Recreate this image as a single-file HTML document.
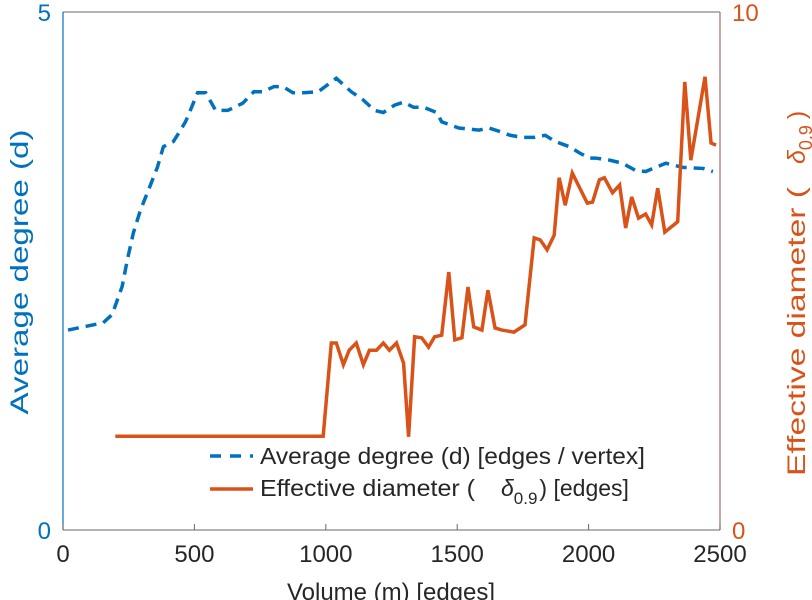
<!DOCTYPE html>
<html><head><meta charset="utf-8"><style>
html,body{margin:0;padding:0;background:#fff;}
svg{display:block;font-family:"Liberation Sans",sans-serif;}
</style></head><body>
<svg id="chart" width="812" height="600" viewBox="0 0 812 600" xmlns="http://www.w3.org/2000/svg">
<rect width="812" height="600" fill="#fff"/>
<g id="axes"></g>
<g id="series"></g>
<g id="legend"></g>
</svg>
<script>
const xTicks = [0, 500, 1000, 1500, 2000, 2500];
const leftTicks = [0, 5];
const rightTicks = [0, 10];
const degM = [19,153,187,225,245,268,295,325,359,382,420,440,466,478,512,543,581,627,684,726,761,803,837,875,914,971,1040,1097,1143,1185,1219,1261,1296,1334,1372,1422,1441,1506,1583,1621,1670,1701,1747,1793,1835,1873,1927,1965,2003,2026,2080,2129,2179,2217,2255,2294,2359,2435,2473];
const degD = [1.93,2.00,2.08,2.35,2.61,2.87,3.09,3.28,3.50,3.70,3.75,3.83,3.94,4.01,4.22,4.22,4.05,4.05,4.12,4.23,4.23,4.28,4.28,4.22,4.22,4.23,4.36,4.23,4.15,4.05,4.03,4.10,4.13,4.08,4.08,4.03,3.94,3.88,3.86,3.88,3.84,3.81,3.79,3.79,3.81,3.75,3.70,3.64,3.59,3.59,3.57,3.54,3.47,3.46,3.50,3.54,3.50,3.49,3.46];
const diaM = [199,990,1021,1040,1067,1089,1116,1143,1166,1193,1219,1242,1269,1296,1315,1338,1365,1391,1414,1441,1468,1491,1518,1541,1563,1594,1617,1644,1670,1716,1758,1793,1816,1842,1869,1888,1911,1938,1995,2015,2041,2060,2091,2118,2141,2164,2190,2217,2240,2263,2290,2339,2366,2389,2443,2466,2485];
const diaD = [1.81,1.81,3.61,3.61,3.19,3.47,3.61,3.19,3.47,3.47,3.61,3.47,3.61,3.22,1.80,3.73,3.71,3.53,3.73,3.76,4.98,3.67,3.71,4.69,3.92,3.86,4.63,3.90,3.86,3.82,3.96,5.64,5.60,5.41,5.69,6.80,6.27,6.89,6.31,6.33,6.76,6.80,6.51,6.66,5.83,6.43,6.02,6.10,5.89,6.60,5.75,5.95,8.65,7.14,8.75,7.47,7.43];

const X0=63, X1=720, Y0=530, Y1=12;
const BLUE='#0072BD', ORANGE='#D95319', GRAY='#262626';
const xs = m => X0 + (m/2500)*(X1-X0);
const yl = d => Y0 - (d/5)*(Y0-Y1);
const yr = d => Y0 - (d/10)*(Y0-Y1);
const NS='http://www.w3.org/2000/svg';
function mk(tag, attrs, parent, text){
  const e=document.createElementNS(NS,tag);
  for(const k in attrs) e.setAttribute(k, attrs[k]);
  if(text!==undefined) e.textContent=text;
  parent.appendChild(e); return e;
}
const axes=document.getElementById('axes');
const series=document.getElementById('series');
const legend=document.getElementById('legend');

let l;
l=mk('line',{x1:X0,y1:Y1,x2:X1,y2:Y1,stroke:'#888','stroke-width':1.2},axes);


l=mk('line',{x1:X0,y1:Y0,x2:X1,y2:Y0,stroke:'#888','stroke-width':1.2},axes);


l=mk('line',{x1:X0,y1:Y1,x2:X0,y2:Y0,stroke:BLUE,'stroke-width':1.2},axes);


l=mk('line',{x1:X1,y1:Y1,x2:X1,y2:Y0,stroke:'#a0706a','stroke-width':1.2},axes);



xTicks.forEach(v=>{
  const x=xs(v);
  const t=mk('line',{x1:x,y1:Y0,x2:x,y2:Y0-6,stroke:'#666','stroke-width':1},axes);
  
  
  const tt=mk('text',{x:x,y:Y0+32,'text-anchor':'middle','font-size':24,fill:GRAY},axes,String(v));
  
  
});
leftTicks.forEach(v=>{
  const tt=mk('text',{x:X0-12,y:yl(v)+9,'text-anchor':'end','font-size':24,fill:BLUE},axes,String(v));
  
  
});
rightTicks.forEach(v=>{
  const tt=mk('text',{x:X1+12,y:yr(v)+9,'text-anchor':'start','font-size':24,fill:ORANGE},axes,String(v));
  
  
});
let lab=mk('text',{x:391,y:600,'text-anchor':'middle','font-size':24,fill:GRAY},axes,'Volume (m) [edges]');


lab=mk('text',{transform:'translate(28,272) rotate(-90)','text-anchor':'middle','font-size':25,fill:BLUE,textLength:285,lengthAdjust:'spacingAndGlyphs'},axes,'Average degree (d)');


lab=mk('text',{transform:'translate(805,476) rotate(-90)','text-anchor':'start','font-size':25,fill:ORANGE},axes);


lab.innerHTML='<tspan textLength="289" lengthAdjust="spacingAndGlyphs">Effective diameter (</tspan><tspan x="312" font-style="italic">δ</tspan><tspan font-size="18" dy="7">0.9</tspan><tspan dy="-7" dx="6">)</tspan>';

const p1=mk('polyline',{points:degM.map((m,i)=>xs(m)+','+yl(degD[i])).join(' '),fill:'none',stroke:BLUE,'stroke-width':3.5,'stroke-dasharray':'11 7'},series);


const p2=mk('polyline',{points:diaM.map((m,i)=>xs(m)+','+yr(diaD[i])).join(' '),fill:'none',stroke:ORANGE,'stroke-width':3.5,'stroke-linejoin':'miter'},series);



let bg=mk('rect',{x:200,y:442,width:458,height:72,fill:'#fff'},legend);


let ls=mk('line',{x1:210,y1:456,x2:253,y2:456,stroke:BLUE,'stroke-width':3.5,'stroke-dasharray':'11 9'},legend);


let lt=mk('text',{x:260,y:464,'font-size':23,fill:GRAY,textLength:385,lengthAdjust:'spacingAndGlyphs'},legend,'Average degree (d) [edges / vertex]');


ls=mk('line',{x1:210,y1:489,x2:253,y2:489,stroke:ORANGE,'stroke-width':3.5},legend);


lt=mk('text',{x:260,y:496,'font-size':23,fill:GRAY},legend);


lt.innerHTML='<tspan textLength="215" lengthAdjust="spacingAndGlyphs">Effective diameter (</tspan><tspan x="501" font-style="italic">δ</tspan><tspan font-size="17" dy="8">0.9</tspan><tspan dy="-8" dx="2">) [edges]</tspan>';
</script>
</body></html>
